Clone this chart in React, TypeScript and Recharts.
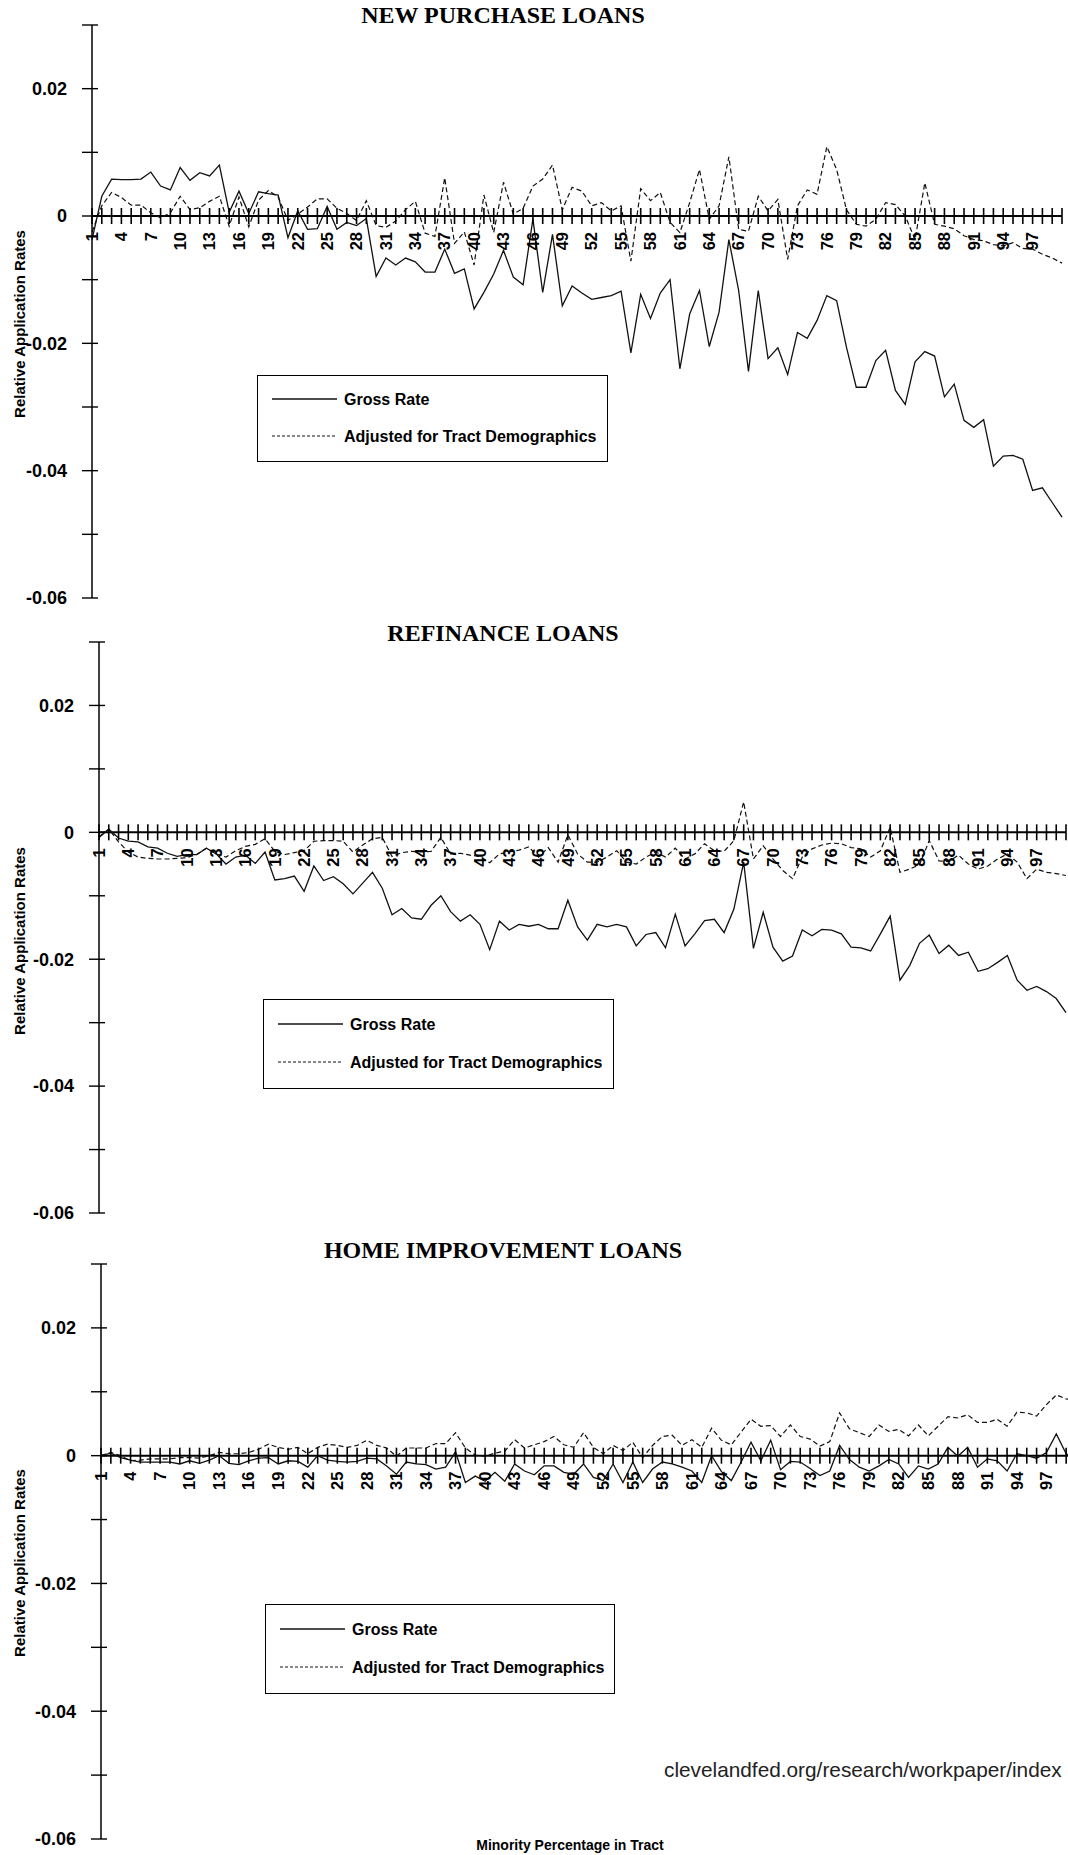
import { LineChart, Line, XAxis, YAxis } from 'recharts'

// Minority percentage in tract (category index along the zero axis)
const categories = [
  1, 2, 3, 4, 5, 6, 7, 8, 9, 10, 11, 12, 13, 14, 15, 16, 17, 18, 19, 20,
  21, 22, 23, 24, 25, 26, 27, 28, 29, 30, 31, 32, 33, 34, 35, 36, 37, 38, 39, 40,
  41, 42, 43, 44, 45, 46, 47, 48, 49, 50, 51, 52, 53, 54, 55, 56, 57, 58, 59, 60,
  61, 62, 63, 64, 65, 66, 67, 68, 69, 70, 71, 72, 73, 74, 75, 76, 77, 78, 79, 80,
  81, 82, 83, 84, 85, 86, 87, 88, 89, 90, 91, 92, 93, 94, 95, 96, 97, 98, 99, 100,
]

const xTickLabels = [
  '1', '4', '7', '10', '13', '16', '19', '22', '25', '28', '31', '34', '37', '40', '43', '46',
  '49', '52', '55', '58', '61', '64', '67', '70', '73', '76', '79', '82', '85', '88', '91', '94', '97',
]

const yTicks = [0.03, 0.02, 0.01, 0, -0.01, -0.02, -0.03, -0.04, -0.05, -0.06]
const yTickLabels = ['', '0.02', '', '0', '', '-0.02', '', '-0.04', '', '-0.06']

const panelTitles = ['NEW PURCHASE LOANS', 'REFINANCE LOANS', 'HOME IMPROVEMENT LOANS']
const seriesNames = ['Gross Rate', 'Adjusted for Tract Demographics']

const newPurchaseGross = [
  -0.0037, 0.0031, 0.0058, 0.0057, 0.0057, 0.0058, 0.0069, 0.0047, 0.0041, 0.0076,
  0.0056, 0.0068, 0.0063, 0.008, 0.0006, 0.0039, 0.0004, 0.0038, 0.0035, 0.0033,
  -0.0034, 0.0008, -0.0021, -0.002, 0.0015, -0.0021, -0.001, -0.0015, -0.0004, -0.0095,
  -0.0066, -0.0077, -0.0066, -0.0072, -0.0088, -0.0088, -0.0052, -0.009, -0.0083, -0.0146,
  -0.012, -0.0091, -0.0054, -0.0096, -0.0108, -0.0005, -0.012, -0.0029, -0.0141, -0.011,
  -0.0121, -0.0131, -0.0128, -0.0125, -0.0118, -0.0215, -0.0123, -0.0161, -0.0121, -0.01,
  -0.024, -0.0154, -0.0117, -0.0205, -0.0151, -0.0037, -0.0117, -0.0244, -0.0117, -0.0224,
  -0.0207, -0.0249, -0.0183, -0.0192, -0.0164, -0.0125, -0.0133, -0.0206, -0.0269, -0.0269,
  -0.0227, -0.0211, -0.0274, -0.0296, -0.0229, -0.0213, -0.022, -0.0284, -0.0264, -0.0321,
  -0.0332, -0.032, -0.0393, -0.0377, -0.0376, -0.0382, -0.0431, -0.0427, -0.045, -0.0473,
]

const newPurchaseAdjusted = [
  -0.0025, 0.0016, 0.0037, 0.0029, 0.0017, 0.0017, 0.0005, -0.0003, 0.0005, 0.0031,
  0.001, 0.0013, 0.0023, 0.0031, -0.0016, 0.003, -0.0017, 0.0025, 0.004, 0.003,
  -0.0007, 0.0003, 0.0014, 0.0027, 0.0027, 0.0012, 0.0004, -0.0007, 0.0024, -0.0015,
  -0.0018, -0.0008, 0.001, 0.0023, -0.0027, -0.0032, 0.006, -0.0043, -0.0025, -0.0077,
  0.0033, -0.0026, 0.0053, 0.0003, 0.0012, 0.0047, 0.0058, 0.008, 0.001, 0.0045,
  0.0039, 0.0016, 0.0021, 0.0008, 0.0016, -0.0071, 0.0043, 0.0024, 0.0037, -0.001,
  -0.0026, 0.0021, 0.0073, -0.0005, 0.0016, 0.0093, -0.0021, -0.0024, 0.0031, 0.0008,
  0.0026, -0.0068, 0.0016, 0.0041, 0.0034, 0.0109, 0.0073, 0.001, -0.0013, -0.0016,
  -0.0005, 0.0021, 0.0018, 0.0, -0.0037, 0.0052, -0.0013, -0.0016, -0.002, -0.0031,
  -0.0037, -0.0039, -0.0045, -0.0047, -0.0042, -0.0051, -0.0052, -0.006, -0.0066, -0.0074,
]

const refinanceGross = [
  -0.0008, 0.0005, -0.0009, -0.0014, -0.0015, -0.0023, -0.0025, -0.0033, -0.0038, -0.0035,
  -0.0035, -0.0025, -0.0034, -0.005, -0.0039, -0.0036, -0.0049, -0.0031, -0.0075, -0.0073,
  -0.0069, -0.0093, -0.0053, -0.0076, -0.007, -0.0081, -0.0097, -0.008, -0.0063, -0.0088,
  -0.013, -0.012, -0.0135, -0.0137, -0.0115, -0.01, -0.0125, -0.014, -0.013, -0.0145,
  -0.0185, -0.014, -0.0154, -0.0145, -0.0148, -0.0145, -0.0152, -0.0152, -0.0107, -0.0149,
  -0.017, -0.0145, -0.0149, -0.0145, -0.0149, -0.0179, -0.0161, -0.0158, -0.0182, -0.0129,
  -0.0179, -0.016, -0.0139, -0.0137, -0.0158, -0.0121, -0.0047, -0.0183, -0.0126, -0.0181,
  -0.0203, -0.0195, -0.0154, -0.0163, -0.0153, -0.0154, -0.016, -0.0181, -0.0182, -0.0187,
  -0.016, -0.0132, -0.0233, -0.021, -0.0175, -0.0162, -0.0191, -0.0178, -0.0194, -0.0189,
  -0.0219, -0.0215, -0.0205, -0.0194, -0.0233, -0.0249, -0.0243, -0.0251, -0.0262, -0.0284,
]

const refinanceAdjusted = [
  -0.0007, 0.0005, -0.0015, -0.0031, -0.0039, -0.0041, -0.0042, -0.0042, -0.0041, -0.004,
  -0.0035, -0.0025, -0.0034, -0.0039, -0.0029, -0.0022, -0.0019, -0.001, -0.003, -0.0035,
  -0.0032, -0.0029, -0.0014, -0.0013, -0.0013, -0.0014, -0.0031, -0.002, -0.001, -0.0008,
  -0.0038, -0.0032, -0.003, -0.0031, -0.003, -0.0008, -0.0034, -0.0033, -0.0036, -0.0038,
  -0.0048, -0.0034, -0.0031, -0.0028, -0.0023, -0.0039, -0.0024, -0.0047, -0.0004, -0.0034,
  -0.0047, -0.0047, -0.0039, -0.0029, -0.0047, -0.005, -0.0039, -0.0031, -0.0039, -0.0025,
  -0.0042, -0.0034, -0.0018, -0.0029, -0.003, -0.0013, 0.0048, -0.0042, -0.0021, -0.0042,
  -0.006, -0.0073, -0.0039, -0.0026, -0.002, -0.0017, -0.0018, -0.0024, -0.0026, -0.0039,
  -0.0029, 0.0008, -0.0063, -0.0058, -0.0051, -0.0013, -0.0045, -0.0046, -0.0036, -0.005,
  -0.0058, -0.0053, -0.0042, -0.0034, -0.0047, -0.0073, -0.0058, -0.0063, -0.0065, -0.0068,
]

const homeImprovementGross = [
  0.0, 0.0004, -0.0003, -0.0007, -0.001, -0.001, -0.001, -0.001, -0.0013, -0.0008,
  -0.0012, -0.0007, 0.0, -0.0012, -0.0014, -0.0008, -0.0004, -0.0003, -0.0013, -0.0008,
  -0.0009, -0.0018, 0.0, -0.0007, -0.0009, -0.001, -0.0009, -0.0004, -0.0005, -0.0016,
  -0.0029, -0.001, -0.0013, -0.0014, -0.0021, -0.0018, 0.0006, -0.0042, -0.0032, -0.004,
  -0.0026, -0.004, -0.0013, -0.0024, -0.003, -0.0016, -0.0016, -0.0026, -0.0029, -0.0013,
  -0.0034, -0.0039, -0.0013, -0.0042, -0.001, -0.0042, -0.0021, -0.001, -0.0013, -0.0018,
  -0.0024, -0.0042, 0.0, -0.0025, -0.0039, -0.001, 0.0021, -0.0008, 0.0024, -0.0022,
  -0.0009, -0.001, -0.002, -0.0031, -0.0024, 0.0016, -0.0006, -0.0018, -0.0024, -0.0016,
  -0.0006, -0.0013, -0.0034, -0.0016, -0.0021, -0.0013, 0.0013, -0.0001, 0.0013, -0.0018,
  -0.0005, -0.0008, -0.0024, 0.0003, 0.0, -0.0004, 0.0005, 0.0034, 0.0003, -0.0004,
]

const homeImprovementAdjusted = [
  0.0, 0.0005, 0.0, -0.0008, -0.0007, -0.0005, -0.0005, -0.0005, -0.0003, -0.0003,
  -0.0004, 0.0, 0.0005, 0.0003, 0.0003, 0.0005, 0.001, 0.0018, 0.0013, 0.001,
  0.0013, 0.0003, 0.0013, 0.0018, 0.0016, 0.0013, 0.0016, 0.0024, 0.0016, 0.0012,
  -0.0001, 0.0012, 0.0012, 0.0012, 0.0019, 0.0019, 0.0036, 0.0012, 0.0001, -0.0001,
  0.0004, 0.0007, 0.0025, 0.0012, 0.0017, 0.0022, 0.003, 0.0017, 0.0013, 0.0036,
  0.0013, 0.0003, 0.0016, 0.0008, 0.0021, -0.0003, 0.0016, 0.003, 0.0032, 0.0016,
  0.0025, 0.0013, 0.0043, 0.0024, 0.0017, 0.0037, 0.0057, 0.0046, 0.0047, 0.003,
  0.0048, 0.003, 0.0026, 0.0015, 0.0022, 0.0067, 0.0042, 0.0036, 0.003, 0.0048,
  0.0038, 0.0041, 0.0031, 0.0048, 0.0031, 0.0046, 0.0061, 0.0059, 0.0064, 0.0052,
  0.0052, 0.0057, 0.0046, 0.0068, 0.0067, 0.0062, 0.008, 0.0095, 0.0089, 0.0087,
]

const SANS = "'Liberation Sans', Arial, Helvetica, sans-serif"
const SERIF = "'Liberation Serif', 'Times New Roman', serif"

// page layout of the three stacked panels
const panels = [
  {
    title: panelTitles[0], gross: newPurchaseGross, adj: newPurchaseAdjusted,
    axisX: 92, top: 25, bottom: 598, right: 1062, titleY: 15,
    legend: { x: 257, y: 375, w: 351, h: 87 },
  },
  {
    title: panelTitles[1], gross: refinanceGross, adj: refinanceAdjusted,
    axisX: 99, top: 642, bottom: 1213, right: 1066, titleY: 633,
    legend: { x: 263, y: 999, w: 351, h: 90 },
  },
  {
    title: panelTitles[2], gross: homeImprovementGross, adj: homeImprovementAdjusted,
    axisX: 101, top: 1264, bottom: 1839, right: 1076, titleY: 1250,
    legend: { x: 265, y: 1604, w: 350, h: 90 },
  },
]

function YTick(props: any) {
  const { x, y, payload } = props
  const i = yTicks.findIndex((v) => Math.abs(v - payload.value) < 1e-9)
  const label = i >= 0 ? yTickLabels[i] : ''
  return (
    <g>
      <line x1={x - 10} x2={x + 6} y1={y} y2={y} stroke="#000" strokeWidth={1.4} />
      {label && (
        <text x={x - 25} y={y} dy="0.35em" textAnchor="end" fontSize={18} fontWeight={700} fontFamily={SANS} fill="#000">
          {label}
        </text>
      )}
    </g>
  )
}

// cross ticks + rotated labels along the zero line
function renderAxisTick(props: any) {
  const { cx, cy, payload, index } = props
  const label = String(payload.cat)
  const show = xTickLabels.includes(label)
  const ty = cy + 16
  return (
    <g key={`xt-${index}`}>
      <line x1={cx} x2={cx} y1={cy - 8} y2={cy + 8} stroke="#000" strokeWidth={1.6} />
      {show && (
        <text
          x={cx}
          y={ty}
          dy="0.35em"
          textAnchor="end"
          transform={`rotate(-90 ${cx} ${ty})`}
          fontSize={16.5}
          fontWeight={700}
          fontFamily={SANS}
          fill="#000"
        >
          {label}
        </text>
      )}
    </g>
  )
}

function LegendBox({ x, y, w, h }: { x: number; y: number; w: number; h: number }) {
  const r1 = Math.round(h * 0.28)
  const r2 = Math.round(h * 0.7)
  return (
    <div
      style={{
        position: 'absolute', left: x, top: y, width: w, height: h,
        border: '1.5px solid #000', boxSizing: 'border-box', background: '#fff',
      }}
    >
      <svg width={w} height={h} style={{ position: 'absolute', left: -1.5, top: -1.5 }}>
        <line x1={15} x2={80} y1={r1} y2={r1} stroke="#111" strokeWidth={1.3} />
        <line x1={15} x2={80} y1={r2} y2={r2} stroke="#111" strokeWidth={1.2} strokeDasharray="3 2" />
        <text x={87} y={r1} dy="0.35em" fontSize={16} fontWeight={700} fontFamily={SANS} fill="#000">
          {seriesNames[0]}
        </text>
        <text x={87} y={r2} dy="0.35em" fontSize={16} fontWeight={700} fontFamily={SANS} fill="#000">
          {seriesNames[1]}
        </text>
      </svg>
    </div>
  )
}

function Panel({ p }: { p: (typeof panels)[number] }) {
  const data = categories.map((c, i) => ({ cat: c, gross: p.gross[i], adj: p.adj[i] }))
  const pad = 14
  const height = p.bottom - p.top + pad * 2
  return (
    <>
      <div
        style={{
          position: 'absolute', left: 0, top: p.titleY - 14, width: 1006, textAlign: 'center',
          fontFamily: SERIF, fontWeight: 700, fontSize: 24, lineHeight: '28px', color: '#000',
        }}
      >
        {p.title}
      </div>
      <div
        style={{
          position: 'absolute', left: 19, top: p.top + 299, transform: 'translate(-50%, -50%) rotate(-90deg)',
          whiteSpace: 'nowrap', fontFamily: SANS, fontWeight: 700, fontSize: 15, color: '#000',
        }}
      >
        Relative Application Rates
      </div>
      <div style={{ position: 'absolute', left: 0, top: p.top - pad }}>
        <LineChart width={p.right + 10} height={height} data={data} margin={{ top: pad, right: 10, bottom: pad, left: 0 }}>
          <XAxis dataKey="cat" hide padding={{ left: 0, right: 0 }} />
          <YAxis
            width={p.axisX}
            domain={[-0.06, 0.03]}
            ticks={yTicks}
            interval={0}
            allowDataOverflow
            tickSize={0}
            tickMargin={0}
            tickLine={false}
            axisLine={{ stroke: '#000', strokeWidth: 1.5 }}
            tick={<YTick />}
          />
          <Line dataKey={() => 0} stroke="#000" strokeWidth={2} dot={renderAxisTick} isAnimationActive={false} />
          <Line dataKey="adj" stroke="#111" strokeWidth={1.2} strokeDasharray="5 3" dot={false} isAnimationActive={false} />
          <Line dataKey="gross" stroke="#111" strokeWidth={1.3} dot={false} isAnimationActive={false} />
        </LineChart>
      </div>
      <LegendBox {...p.legend} />
    </>
  )
}

export default function App() {
  return (
    <div
      style={{
        position: 'absolute', left: 0, top: 0, width: 1068, height: 1855,
        overflow: 'hidden', background: '#fff',
      }}
    >
      {panels.map((p) => (
        <Panel key={p.title} p={p} />
      ))}
      <div
        style={{
          position: 'absolute', left: 664, top: 1770, transform: 'translateY(-50%)', whiteSpace: 'nowrap',
          fontFamily: SANS, fontSize: 20.8, color: '#222',
        }}
      >
        clevelandfed.org/research/workpaper/index
      </div>
      <div
        style={{
          position: 'absolute', left: 570, top: 1845, transform: 'translate(-50%, -50%)', whiteSpace: 'nowrap',
          fontFamily: SANS, fontWeight: 700, fontSize: 14, color: '#000',
        }}
      >
        Minority Percentage in Tract
      </div>
    </div>
  )
}
